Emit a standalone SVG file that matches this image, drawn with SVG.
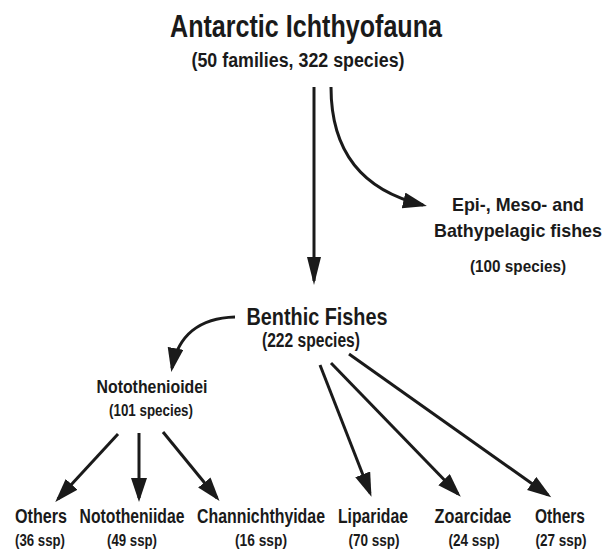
<svg xmlns="http://www.w3.org/2000/svg" width="611" height="552" viewBox="0 0 611 552">
<style>
text{font-family:"Liberation Sans",Arial,sans-serif;font-weight:bold;fill:#1a1a1a;text-anchor:middle}
.t1{font-size:31px}
.t2{font-size:24px}
.s1{font-size:20px}
.m{font-size:19px}
.l{font-size:20px}
.s{font-size:17px}
.c{fill:none;stroke:#1a1a1a;stroke-width:3}
</style>
<defs>
<marker id="ah" markerUnits="userSpaceOnUse" markerWidth="26" markerHeight="18" refX="20" refY="8" orient="auto">
<path d="M0,0 L24,8 L0,16 z" fill="#1a1a1a"/>
</marker>
<marker id="ahv" markerUnits="userSpaceOnUse" markerWidth="30" markerHeight="16" refX="24" refY="7" orient="auto">
<path d="M0,0 L28,7 L0,14 z" fill="#1a1a1a"/>
</marker>
</defs>
<g id="root"><text class="t1" x="306" y="37" textLength="272" lengthAdjust="spacingAndGlyphs">Antarctic Ichthyofauna</text><text class="s1" x="298" y="67" textLength="213" lengthAdjust="spacingAndGlyphs">(50 families, 322 species)</text></g>
<g id="pelagic"><text class="m" x="518" y="211" textLength="132" lengthAdjust="spacingAndGlyphs">Epi-, Meso- and</text><text class="m" x="518" y="237" textLength="168" lengthAdjust="spacingAndGlyphs">Bathypelagic fishes</text><text class="s" x="518" y="272" textLength="96" lengthAdjust="spacingAndGlyphs">(100 species)</text></g>
<g id="benthic"><text class="t2" x="317" y="325" textLength="141" lengthAdjust="spacingAndGlyphs">Benthic Fishes</text><text class="s1" x="311" y="347" textLength="98" lengthAdjust="spacingAndGlyphs">(222 species)</text></g>
<g id="notothenioidei"><text class="m" x="152" y="393" textLength="111" lengthAdjust="spacingAndGlyphs">Notothenioidei</text><text class="s" x="151" y="416" textLength="84" lengthAdjust="spacingAndGlyphs">(101 species)</text></g>
<g id="others1"><text class="l" transform="translate(41,523) scale(0.8,1)" textLength="65" lengthAdjust="spacingAndGlyphs">Others</text><text class="s" transform="translate(40,546) scale(0.8,1)" textLength="62.5" lengthAdjust="spacingAndGlyphs">(36 ssp)</text></g>
<g id="nototheniidae"><text class="l" transform="translate(132,523) scale(0.8,1)" textLength="131" lengthAdjust="spacingAndGlyphs">Nototheniidae</text><text class="s" transform="translate(132,546) scale(0.8,1)" textLength="62.5" lengthAdjust="spacingAndGlyphs">(49 ssp)</text></g>
<g id="channichthyidae"><text class="l" transform="translate(261,523) scale(0.8,1)" textLength="160" lengthAdjust="spacingAndGlyphs">Channichthyidae</text><text class="s" transform="translate(261,546) scale(0.8,1)" textLength="65" lengthAdjust="spacingAndGlyphs">(16 ssp)</text></g>
<g id="liparidae"><text class="l" transform="translate(373,523) scale(0.8,1)" textLength="87.5" lengthAdjust="spacingAndGlyphs">Liparidae</text><text class="s" transform="translate(374,546) scale(0.8,1)" textLength="64" lengthAdjust="spacingAndGlyphs">(70 ssp)</text></g>
<g id="zoarcidae"><text class="l" transform="translate(473,523) scale(0.8,1)" textLength="96" lengthAdjust="spacingAndGlyphs">Zoarcidae</text><text class="s" transform="translate(474,546) scale(0.8,1)" textLength="64" lengthAdjust="spacingAndGlyphs">(24 ssp)</text></g>
<g id="others2"><text class="l" transform="translate(560,523) scale(0.8,1)" textLength="62.5" lengthAdjust="spacingAndGlyphs">Others</text><text class="s" transform="translate(561,546) scale(0.8,1)" textLength="64" lengthAdjust="spacingAndGlyphs">(27 ssp)</text></g>
<g id="connectors">
<path class="c" d="M314,87 L314,281" marker-end="url(#ahv)"/>
<path class="c" d="M331,87 C331,150 360,190 423,205" marker-end="url(#ah)"/>
<path class="c" d="M235,317 C200,318 178,335 172,368" marker-end="url(#ah)"/>
<path class="c" d="M118,434 L58,499" marker-end="url(#ah)"/>
<path class="c" d="M139,433 L139,498" marker-end="url(#ah)"/>
<path class="c" d="M163,432 L217,498" marker-end="url(#ah)"/>
<path class="c" d="M320,365 L370,493" marker-end="url(#ah)"/>
<path class="c" d="M331,363 L458,494" marker-end="url(#ah)"/>
<path class="c" d="M349,354 L548,495" marker-end="url(#ah)"/>
</g>
</svg>
